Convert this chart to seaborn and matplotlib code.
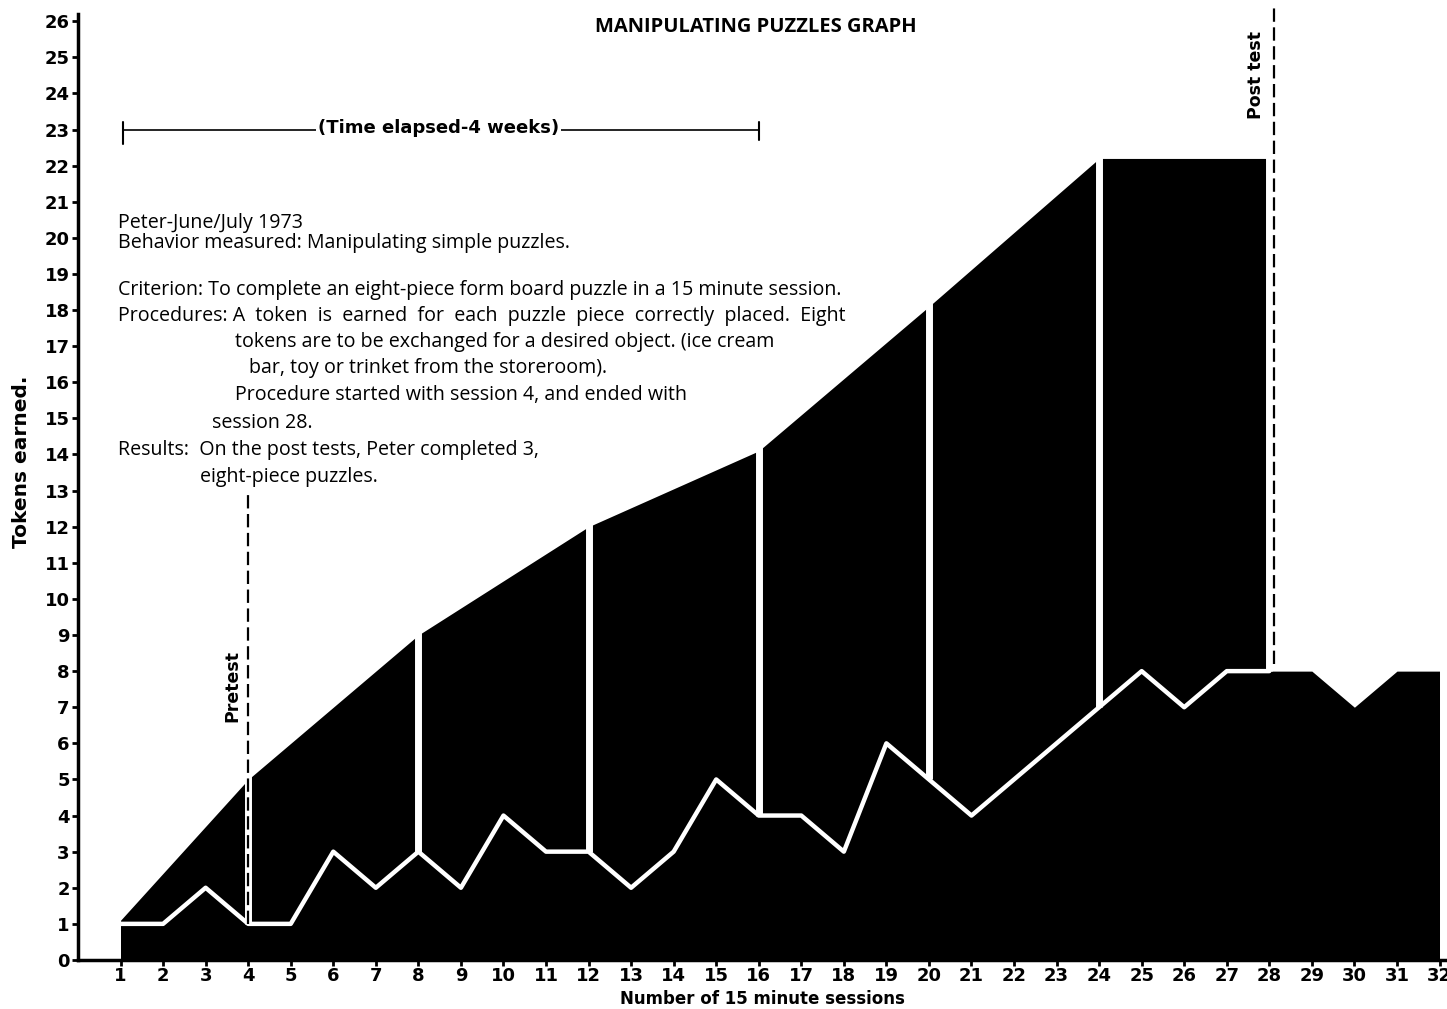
import matplotlib
matplotlib.use("Agg")
import matplotlib.pyplot as plt
import seaborn as sns
import pandas as pd

# tokens earned per session (white line)
sessions = list(range(1, 33))
tokens = [1, 1, 2, 1, 1, 3, 2, 3, 2, 4, 3, 3, 2, 3, 5, 4,
          4, 3, 6, 5, 4, 5, 6, 7, 8, 7, 8, 8, 8, 7, 8, 8]

# upper edge of the black area (phase ceilings)
phase_sessions = [1, 4, 8, 12, 16, 20, 24, 28]
ceiling = [1.1, 5.0, 9.0, 12.0, 14.1, 18.1, 22.2, 22.2]

# phase change sessions marked by white gaps
gap_sessions = [4, 8, 12, 16, 20, 24, 28]

y_ticks = list(range(0, 27))

df = pd.DataFrame({"session": sessions, "tokens": tokens})
df_proc = df[df["session"] <= 28]

sns.set_theme(style="ticks")
plt.rcParams['font.family'] = ['DejaVu Sans']
plt.rcParams.update({"text.color": "black", "axes.edgecolor": "black",
                     "xtick.color": "black", "ytick.color": "black",
                     "axes.labelcolor": "black"})

fig = plt.figure(figsize=(14.47, 10.09), dpi=100)
ax = fig.add_axes([0.0539, 0.0486, 0.9468, 0.9375])

# black areas
ax.fill_between(phase_sessions, 0, ceiling, color="black", lw=0, zorder=1)
ax.fill_between(df["session"], 0, df["tokens"], color="black", lw=0, zorder=1)

# white gaps at each phase change
for s in gap_sessions:
    low = tokens[s - 1]
    top = ceiling[phase_sessions.index(s)]
    ax.plot([s, s], [low, top + 0.3], color="white", lw=5, zorder=2,
            solid_capstyle="butt")

# white line of tokens earned
sns.lineplot(data=df_proc, x="session", y="tokens", color="white",
             lw=3.2, ax=ax, zorder=3)

# pretest / post test dashed lines
ax.plot([4, 4], [tokens[3], 13.0], color="black", lw=1.6,
        dashes=(6, 2.5), zorder=4)
ax.plot([28.1, 28.1], [8.2, 26.4], color="black", lw=1.6,
        dashes=(6, 2.5), zorder=4, clip_on=False)
ax.text(3.62, 7.6, "Pretest", rotation=90, ha="center", va="center",
        fontsize=12.5, fontweight="bold")
ax.text(27.68, 24.5, "Post test", rotation=90, ha="center", va="center",
        fontsize=12.5, fontweight="bold")

# time elapsed bracket
ax.plot([1.05, 16.0], [23.0, 23.0], color="black", lw=1.2, zorder=2)
ax.plot([1.05, 1.05], [22.6, 23.2], color="black", lw=1.5)
ax.plot([16.0, 16.0], [22.7, 23.2], color="black", lw=1.5)
ax.text(8.47, 23.05, "(Time elapsed-4 weeks)", ha="center", va="center",
        fontsize=13, fontweight="bold", zorder=3,
        bbox=dict(facecolor="white", edgecolor="none", pad=1.5))

# title
ax.text(15.92, 25.85, "MANIPULATING PUZZLES GRAPH", ha="center", va="center",
        fontsize=14.5, fontweight="bold", family=["Open Sans", "DejaVu Sans"])

# annotation block
note_font = dict(fontsize=14.1, family=["Open Sans", "DejaVu Sans"],
                 va="center", ha="left")
notes = [
    (0.93, 20.4, "Peter-June/July 1973"),
    (0.93, 19.85, "Behavior measured: Manipulating simple puzzles."),
    (0.93, 18.56, "Criterion: To complete an eight-piece form board puzzle in a 15 minute session."),
    (0.93, 17.84, "Procedures: A  token  is  earned  for  each  puzzle  piece  correctly  placed.  Eight"),
    (3.68, 17.12, "tokens are to be exchanged for a desired object. (ice cream"),
    (4.03, 16.40, "bar, toy or trinket from the storeroom)."),
    (3.68, 15.65, "Procedure started with session 4, and ended with"),
    (3.16, 14.88, "session 28."),
    (0.93, 14.13, "Results:  On the post tests, Peter completed 3,"),
    (2.86, 13.38, "eight-piece puzzles."),
]
for x, y, t in notes:
    ax.text(x, y, t, **note_font)

# axes
ax.set_xlim(0, 32.2)
ax.set_ylim(0, 26.2)
ax.set_xticks(sessions)
ax.set_yticks(y_ticks)
ax.tick_params(axis="both", direction="out", length=4, width=2,
               labelsize=13, pad=2)
ax.tick_params(axis="x", pad=1)
for lab in ax.get_xticklabels() + ax.get_yticklabels():
    lab.set_fontweight("bold")
ax.set_xlabel("")
ax.set_ylabel("")
sns.despine(ax=ax)
ax.spines["left"].set_linewidth(2.5)
ax.spines["bottom"].set_linewidth(2.5)
ax.set_facecolor("white")

fig.text(762 / 1447, 1 - 999 / 1009, "Number of 15 minute sessions",
         ha="center", va="center", fontsize=12, fontweight="bold")
fig.text(22 / 1447, 1 - 462 / 1009, "Tokens earned.", rotation=90,
         ha="center", va="center", fontsize=14.5, fontweight="bold")

fig.savefig("out.png", dpi=100, facecolor="white")
